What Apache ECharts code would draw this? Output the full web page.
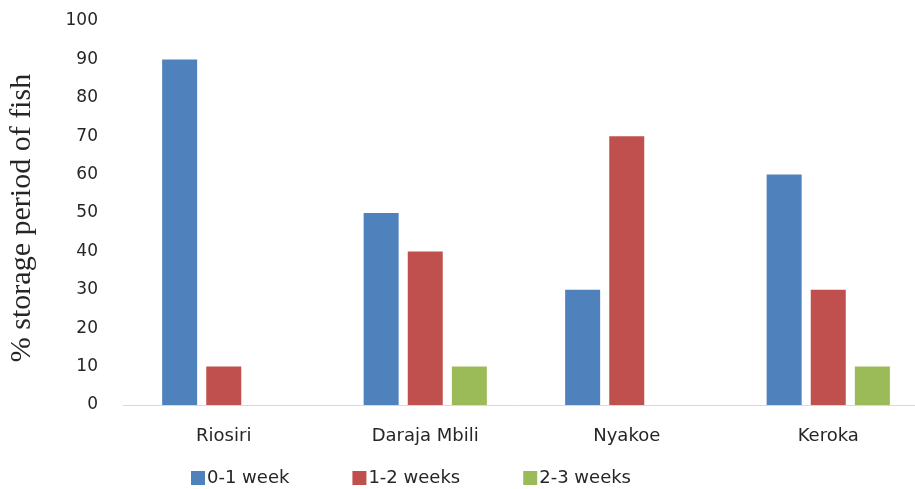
<!DOCTYPE html>
<html>
<head>
<meta charset="utf-8">
<script src="https://cdn.jsdelivr.net/npm/echarts@6/dist/echarts.min.js"></script>
<style>html,body{margin:0;padding:0;background:#fff;}#c{width:915px;height:489px;}</style>
</head>
<body>
<div id="c"></div>
<script>
const categories = ['Riosiri', 'Daraja Mbili', 'Nyakoe', 'Keroka'];
const week01 = [90, 50, 30, 60];
const week12 = [10, 40, 70, 30];
const week23 = [0, 10, 0, 10];
const seriesNames = ['0-1 week', '1-2 weeks', '2-3 weeks'];
const colors = ['#4F81BD', '#C0504D', '#9BBB59'];
const yTitle = '% storage period of fish';

const chart = echarts.init(document.getElementById('c'));
const sansFont = 'DejaVu Sans';
const mk = (name, data, color) => ({
  name, type: 'bar', data, barWidth: 35, barGap: '26%',
  itemStyle: { color }
});
chart.setOption({
  animation: false,
  backgroundColor: '#fff',
  grid: { left: 123, top: 21, bottom: 84, width: 806, outerBoundsMode: 'none', containLabel: false },
  legend: {
    data: seriesNames, left: 191, top: 469, padding: 0, itemWidth: 14, itemHeight: 14, itemGap: 63,
    icon: 'rect',
    textStyle: { fontFamily: sansFont, fontSize: 18, color: '#262626', padding: [0,0,0,-3] }
  },
  xAxis: {
    type: 'category', data: categories,
    axisLine: { lineStyle: { color: '#d9d9d9', width: 1 } },
    axisTick: { show: false },
    axisLabel: { fontFamily: sansFont, fontSize: 18, color: '#262626', margin: 22 }
  },
  yAxis: {
    type: 'value', min: 0, max: 100, interval: 10,
    name: yTitle, nameLocation: 'middle', nameGap: 86, nameRotate: 90,
    nameTextStyle: { fontFamily: 'Liberation Serif', fontSize: 30, color: '#262626', padding: [0, 10, 0, 0] },
    axisLine: { show: false }, axisTick: { show: false }, splitLine: { show: false },
    axisLabel: { fontFamily: sansFont, fontSize: 17, color: '#262626', margin: 25 }
  },
  series: [mk(seriesNames[0], week01, colors[0]), mk(seriesNames[1], week12, colors[1]), mk(seriesNames[2], week23, colors[2])]
});
</script>
</body>
</html>
